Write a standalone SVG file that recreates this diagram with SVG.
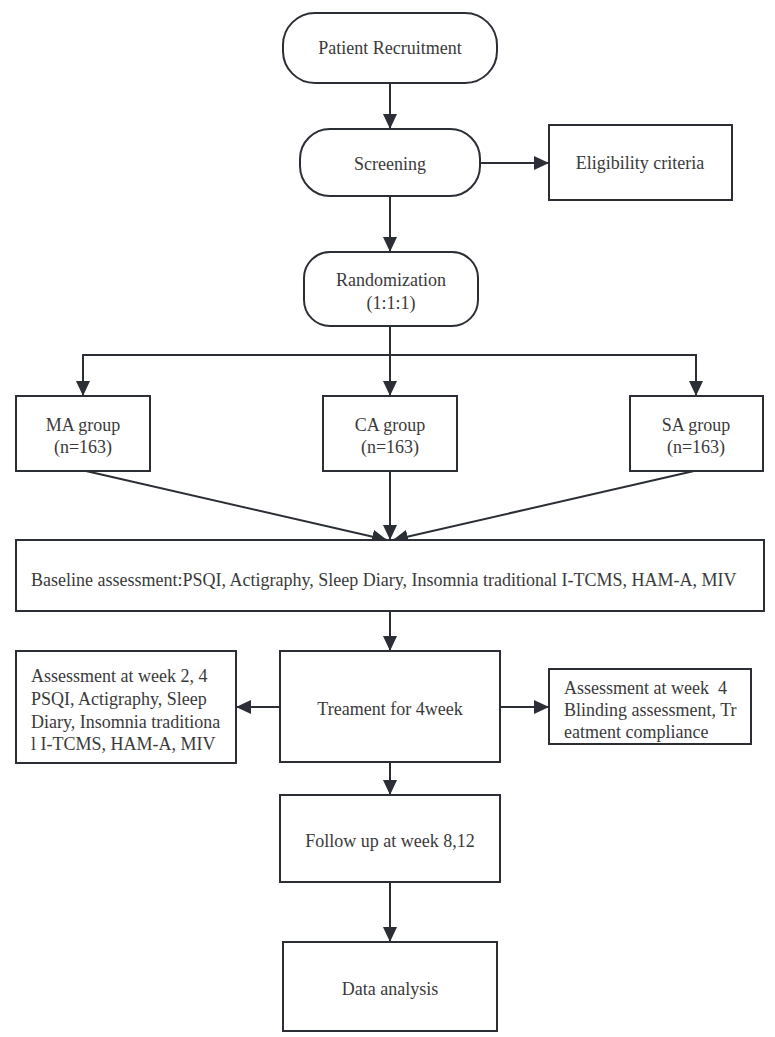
<svg xmlns="http://www.w3.org/2000/svg" width="775" height="1037" viewBox="0 0 775 1037">
<style>
.box{fill:#fff;stroke:#2b2f35;stroke-width:2}
.ln{fill:none;stroke:#2b2f35;stroke-width:2}
.t{font-family:"Liberation Serif","Times New Roman",serif;font-size:18px;fill:#3a3a3a;white-space:pre}
.c{text-anchor:middle}
</style>
<defs>
<marker id="ah" markerUnits="userSpaceOnUse" markerWidth="16" markerHeight="14" refX="15" refY="7" orient="auto">
<path d="M0,0 L15,7 L0,14 z" fill="#2b2f35"/>
</marker>
</defs>
<rect width="775" height="1037" fill="#fff"/>
<g id="connectors">
<line class="ln" x1="390" y1="83" x2="390" y2="129" marker-end="url(#ah)"/>
<line class="ln" x1="480" y1="163" x2="549" y2="163" marker-end="url(#ah)"/>
<line class="ln" x1="390" y1="196" x2="390" y2="252" marker-end="url(#ah)"/>
<line class="ln" x1="390" y1="326" x2="390" y2="396" marker-end="url(#ah)"/>
<polyline class="ln" points="390,355 83,355 83,396" marker-end="url(#ah)"/>
<polyline class="ln" points="390,355 696,355 696,396" marker-end="url(#ah)"/>
<line class="ln" x1="86" y1="471" x2="387" y2="540" marker-end="url(#ah)"/>
<line class="ln" x1="390" y1="471" x2="390" y2="540" marker-end="url(#ah)"/>
<line class="ln" x1="694" y1="471" x2="393" y2="540" marker-end="url(#ah)"/>
<line class="ln" x1="390" y1="611" x2="390" y2="651" marker-end="url(#ah)"/>
<line class="ln" x1="280" y1="707" x2="236" y2="707" marker-end="url(#ah)"/>
<line class="ln" x1="500" y1="707" x2="549" y2="707" marker-end="url(#ah)"/>
<line class="ln" x1="390" y1="762" x2="390" y2="795" marker-end="url(#ah)"/>
<line class="ln" x1="390" y1="882" x2="390" y2="942" marker-end="url(#ah)"/>
</g>
<g id="patient-recruitment">
<rect class="box" x="283" y="13" width="214" height="70" rx="32" ry="32"/>
<text class="t c" x="390" y="54">Patient Recruitment</text>
</g>
<g id="screening">
<rect class="box" x="300" y="129" width="180" height="67" rx="30" ry="30"/>
<text class="t c" x="390" y="170">Screening</text>
</g>
<g id="eligibility">
<rect class="box" x="549" y="125" width="183" height="75"/>
<text class="t c" x="640" y="169">Eligibility criteria</text>
</g>
<g id="randomization">
<rect class="box" x="304" y="252" width="174" height="74" rx="26" ry="26"/>
<text class="t c" x="391" y="286">Randomization</text>
<text class="t c" x="391" y="309">(1:1:1)</text>
</g>
<g id="ma-group">
<rect class="box" x="16" y="396" width="134" height="75"/>
<text class="t c" x="83" y="431">MA group</text>
<text class="t c" x="83" y="453">(n=163)</text>
</g>
<g id="ca-group">
<rect class="box" x="323" y="396" width="134" height="75"/>
<text class="t c" x="390" y="431">CA group</text>
<text class="t c" x="390" y="453">(n=163)</text>
</g>
<g id="sa-group">
<rect class="box" x="630" y="396" width="133" height="75"/>
<text class="t c" x="696" y="431">SA group</text>
<text class="t c" x="696" y="453">(n=163)</text>
</g>
<g id="baseline">
<rect class="box" x="16" y="540" width="748" height="71"/>
<text class="t" x="31" y="586">Baseline assessment:PSQI, Actigraphy, Sleep Diary, Insomnia traditional I-TCMS, HAM-A, MIV</text>
</g>
<g id="assessment-2-4">
<rect class="box" x="16" y="651" width="220" height="112"/>
<text class="t" x="31" y="682">Assessment at week 2, 4</text>
<text class="t" x="31" y="705">PSQI, Actigraphy, Sleep</text>
<text class="t" x="31" y="728">Diary, Insomnia traditiona</text>
<text class="t" x="31" y="750">l I-TCMS, HAM-A, MIV</text>
</g>
<g id="treatment">
<rect class="box" x="280" y="651" width="220" height="111"/>
<text class="t c" x="390" y="715">Treament for 4week</text>
</g>
<g id="assessment-4">
<rect class="box" x="549" y="669" width="202" height="75"/>
<text class="t" x="564" y="694">Assessment at week  4</text>
<text class="t" x="564" y="716">Blinding assessment, Tr</text>
<text class="t" x="564" y="738">eatment compliance</text>
</g>
<g id="follow-up">
<rect class="box" x="280" y="795" width="220" height="87"/>
<text class="t c" x="390" y="847">Follow up at week 8,12</text>
</g>
<g id="data-analysis">
<rect class="box" x="283" y="942" width="214" height="89"/>
<text class="t c" x="390" y="995">Data analysis</text>
</g>
</svg>
